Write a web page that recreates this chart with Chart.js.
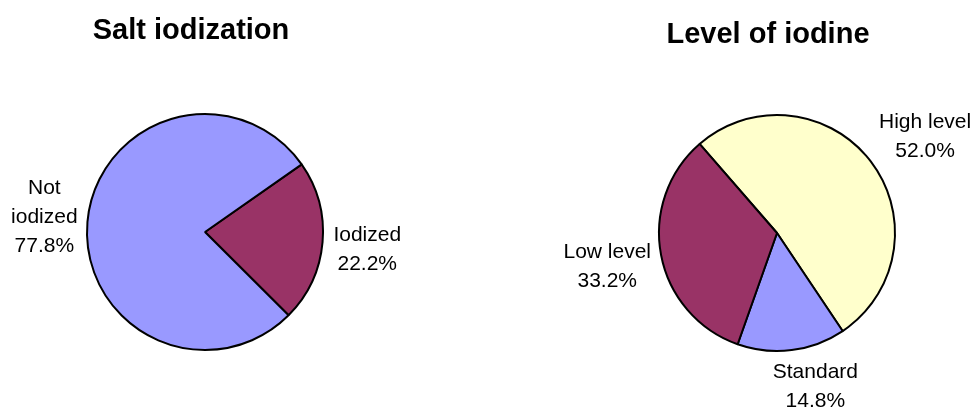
<!DOCTYPE html>
<html>
<head>
<meta charset="utf-8">
<script src="https://cdn.jsdelivr.net/npm/chart.js@4.4.0/dist/chart.umd.min.js"></script>
<style>
    html, body { margin: 0; padding: 0; background: #fff; }
    #wrap { position: relative; width: 976px; height: 408px; }
    .panel { position: absolute; top: 0; width: 488px; height: 408px; }
</style>
</head>
<body>
<div id="wrap">
    <div class="panel" style="left:0"><canvas id="graficoSal" width="488" height="408"></canvas></div>
    <div class="panel" style="left:488px"><canvas id="graficoIodo" width="488" height="408"></canvas></div>
</div>
<script>
// dados
const tituloSal = 'Salt iodization';
const rotulosSal = ['Iodized', ['Not', 'iodized']];
const valoresSal = [22.2, 77.8];

const tituloIodo = 'Level of iodine';
const rotulosIodo = ['High level', 'Standard', 'Low level'];
const valoresIodo = [52.0, 14.8, 33.2];

const FONTE = '"Liberation Sans", Arial, sans-serif';

// desenha o titulo e os rotulos fora das fatias
const rotulosPlugin = {
    id: 'rotulosFora',
    afterDraw(chart, args, opts) {
        const ctx = chart.ctx;
        ctx.save();
        ctx.fillStyle = '#000';
        ctx.textAlign = 'center';
        ctx.textBaseline = 'alphabetic';
        ctx.font = 'bold 29px ' + FONTE;
        ctx.fillText(opts.titulo, opts.tituloX, opts.tituloY);

        ctx.font = '21px ' + FONTE;
        const lineH = 29;
        const meta = chart.getDatasetMeta(0);
        const dados = chart.data.datasets[0].data;
        meta.data.forEach((arc, i) => {
            const p = arc.getProps(['x', 'y', 'startAngle', 'endAngle', 'outerRadius'], true);
            const meio = (p.startAngle + p.endAngle) / 2;
            const rot = chart.data.labels[i];
            const linhas = (Array.isArray(rot) ? rot.slice() : [rot]);
            linhas.push(dados[i].toFixed(1) + '%');
            const w = Math.max(...linhas.map(l => ctx.measureText(l).width));
            const h = linhas.length * lineH;
            const cos = Math.cos(meio), sin = Math.sin(meio);
            const dist = p.outerRadius + 11;
            const nudge = (opts.nudge && opts.nudge[i]) || [0, 0];
            const cx = p.x + dist * cos + cos * w / 2 + nudge[0];
            const cy = p.y + dist * sin + sin * h / 2 + nudge[1];
            linhas.forEach((l, k) => {
                const base = cy - h / 2 + k * lineH + lineH * 0.75;
                ctx.fillText(l, cx, base);
            });
        });
        ctx.restore();
    }
};

function criarPizza(id, titulo, rotulos, valores, cores, rotacao, padding, tituloX, tituloY, nudge) {
    const ctx = document.getElementById(id).getContext('2d');
    return new Chart(ctx, {
        type: 'pie',
        data: {
            labels: rotulos,
            datasets: [{
                data: valores,
                backgroundColor: cores,
                borderColor: '#000',
                borderWidth: 2,
                hoverOffset: 0,
                offset: 0
            }]
        },
        options: {
            responsive: false,
            animation: false,
            rotation: rotacao,
            layout: { padding: padding },
            events: [],
            plugins: {
                legend: { display: false },
                tooltip: { enabled: false },
                rotulosFora: { titulo, tituloX, tituloY, nudge }
            }
        },
        plugins: [rotulosPlugin]
    });
}

document.addEventListener('DOMContentLoaded', function () {
    criarPizza('graficoSal', tituloSal, rotulosSal, valoresSal,
        ['#993366', '#9999FF'], 55,
        { left: 86, top: 113, right: 164, bottom: 57 }, 191, 39,
        [[0, 3], [1, -1]]);

    criarPizza('graficoIodo', tituloIodo, rotulosIodo, valoresIodo,
        ['#FFFFCC', '#9999FF', '#993366'], -41,
        { left: 170, top: 114, right: 80, bottom: 56 }, 280, 43,
        [[9, -2], [17, -5], [0, 3]]);
});
</script>
</body>
</html>
